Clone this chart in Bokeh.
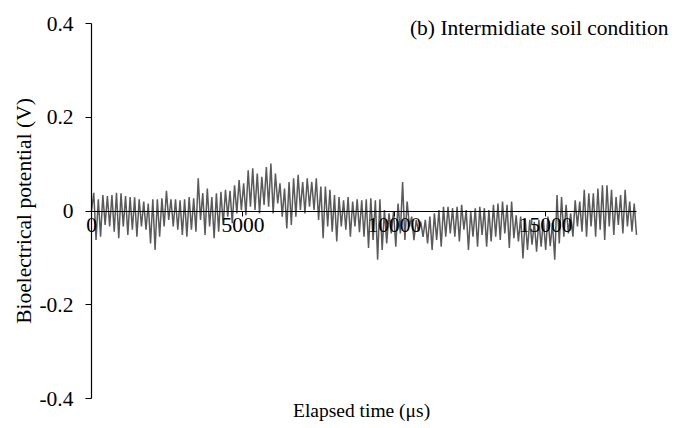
from bokeh.plotting import figure
from bokeh.models import Range1d, FixedTicker, Label
from bokeh.embed import file_html
from bokeh.resources import INLINE

# ---- data ----
sample_interval_us = 75
potential_v = [
    0.0,
    # 0 - ~2900 us
    0.039, -0.062, 0.025, -0.055, 0.034, -0.030, 0.032, -0.033, 0.034, -0.044,
    0.039, -0.058, 0.038, -0.033, 0.032, -0.051, 0.030, -0.040, 0.029, -0.055,
    0.025, -0.033, 0.020, -0.040, 0.016, -0.069, 0.025, -0.083, 0.025, -0.055,
    0.027, -0.033, 0.043, -0.019, 0.025, -0.033, 0.025, -0.040,
    # ~2900 - ~5900 us
    0.023, -0.051, 0.025, -0.055, 0.030, -0.040, 0.027, -0.044, 0.070, -0.019,
    0.038, -0.051, 0.048, -0.033, 0.030, -0.058, 0.038, -0.044, 0.041, -0.030,
    0.045, -0.012, 0.043, -0.026, 0.055, -0.005, 0.066, 0.002, 0.059, -0.009,
    0.087, 0.009, 0.091, 0.002, 0.080, -0.005, 0.073, 0.013, 0.094, 0.009,
    # ~5900 - ~8900 us
    0.101, -0.005, 0.080, 0.016, 0.059, -0.012, 0.048, -0.037, 0.062, -0.030,
    0.070, -0.012, 0.077, 0.002, 0.062, -0.005, 0.070, 0.009, 0.062, 0.002,
    0.070, -0.019, 0.052, -0.058, 0.052, -0.033, 0.045, -0.044, 0.034, -0.065,
    0.030, -0.033, 0.023, -0.040, 0.030, -0.055, 0.020, -0.033, 0.025, -0.045,
    # ~8900 - ~11900 us
    0.023, -0.055, 0.025, -0.079, 0.027, -0.062, 0.023, -0.104, 0.025, -0.083,
    0.002, -0.069, -0.005, -0.048, -0.001, -0.076, 0.016, -0.048, 0.062, -0.062,
    0.020, -0.033, -0.012, -0.062, -0.019, -0.044, -0.023, -0.055, -0.019, -0.069,
    -0.012, -0.083, -0.005, -0.062, 0.002, -0.076, 0.009, -0.055, 0.009, -0.048,
    # ~11900 - ~14900 us
    0.006, -0.055, 0.009, -0.065, 0.013, -0.040, 0.002, -0.083, -0.001, -0.055,
    0.006, -0.076, 0.009, -0.051, 0.006, -0.076, 0.002, -0.065, 0.013, -0.055,
    0.016, -0.062, 0.020, -0.048, 0.013, -0.079, 0.020, -0.058, -0.009, -0.065,
    -0.012, -0.101, -0.016, -0.083, -0.019, -0.072, -0.023, -0.087, -0.019, -0.076,
    # ~14900 - 18000 us
    -0.019, -0.083, -0.012, -0.075, -0.026, -0.104, 0.034, -0.069, 0.030, -0.055,
    0.013, -0.048, -0.005, -0.055, 0.023, -0.033, 0.020, -0.044, 0.045, -0.055,
    0.038, -0.033, 0.038, -0.055, 0.048, -0.040, 0.055, -0.062, 0.055, -0.033,
    0.045, -0.051, 0.030, -0.030, 0.034, -0.048, 0.045, -0.033, 0.020, -0.044,
    0.016, -0.051,
]
time_us = [i * sample_interval_us for i in range(len(potential_v))]

x_min, x_max = 0, 18000
y_min, y_max = -0.4, 0.4
x_ticks = [0, 5000, 10000, 15000]
y_ticks = [-0.4, -0.2, 0, 0.2, 0.4]
y_tick_labels = {0.4: "0.4", 0.2: "0.2", 0: "0", -0.2: "-0.2", -0.4: "-0.4"}
x_label = "Elapsed time  (\u03bcs)"
y_label = "Bioelectrical potential (V)"
panel_title = "(b) Intermidiate soil condition"

FONT = "Liberation Serif"
FS = "21.5px"
FS_XLABEL = "19.5px"

# The frame covers the whole canvas; both axes are drawn at fixed data
# positions (Excel-like axes crossing at zero) and bounded to the data limits.
W, H = 684, 428
AX_L, AX_R, AX_T, AX_B = 91, 636, 23, 398   # pixel edges of the axis box
ux = (x_max - x_min) / (AX_R - AX_L)
uy = (y_max - y_min) / (AX_B - AX_T)
x_start, x_end = x_min - AX_L * ux, x_max + (W - AX_R) * ux
y_start, y_end = y_min - (H - AX_B) * uy, y_max + AX_T * uy

p = figure(
    width=W, height=H,
    x_range=Range1d(x_start, x_end), y_range=Range1d(y_start, y_end),
    output_backend="svg", toolbar_location=None,
    min_border=0,
)
p.outline_line_color = None
p.grid.visible = False
p.background_fill_color = "white"
p.border_fill_color = "white"

p.line(time_us, potential_v, line_color="#5a5a5a", line_width=1.5)

# x axis crossing at y = 0
xa = p.xaxis[0]
xa.fixed_location = 0
xa.bounds = (x_min, x_max)
xa.ticker = FixedTicker(ticks=x_ticks)
xa.axis_line_color = "black"
xa.axis_line_width = 1.2
xa.major_tick_in = 0
xa.major_tick_out = 5
xa.minor_tick_line_color = None
xa.major_label_standoff = 2
xa.major_label_text_font = FONT
xa.major_label_text_font_size = FS
xa.major_label_text_color = "black"

# y axis at x = 0
ya = p.yaxis[0]
ya.fixed_location = 0
ya.bounds = (y_min, y_max)
ya.ticker = FixedTicker(ticks=y_ticks)
ya.major_label_overrides = y_tick_labels
ya.axis_line_color = "black"
ya.axis_line_width = 1.2
ya.major_tick_in = 0
ya.major_tick_out = 6
ya.minor_tick_line_color = None
ya.major_label_standoff = 12
ya.major_label_text_font = FONT
ya.major_label_text_font_size = FS
ya.major_label_text_color = "black"
ya.axis_label = y_label
ya.axis_label_standoff = 0
ya.axis_label_text_font = FONT
ya.axis_label_text_font_size = FS
ya.axis_label_text_font_style = "normal"
ya.axis_label_text_color = "black"

# x axis title under the axis box
p.add_layout(Label(
    x=(x_min + x_max) / 2, y=y_min, y_offset=-12, text=x_label,
    text_align="center", text_baseline="middle",
    text_font=FONT, text_font_size=FS_XLABEL, text_color="black",
))

# panel caption, top right
p.add_layout(Label(
    x=x_max, y=y_max, x_offset=32, y_offset=-4, text=panel_title,
    text_align="right", text_baseline="middle",
    text_font=FONT, text_font_size=FS, text_color="black",
))

open("out.html", "w").write(file_html(p, INLINE))
